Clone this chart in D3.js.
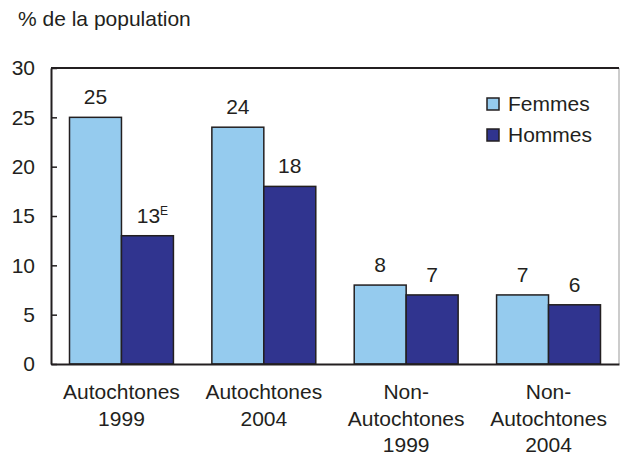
<!DOCTYPE html>
<html>
<head>
<meta charset="utf-8">
<script src="https://cdn.jsdelivr.net/npm/d3@7"></script>
<style>
  body { margin: 0; background: #fff; }
  text { font-family: "Liberation Sans", Arial, sans-serif; fill: #231f20; }
</style>
</head>
<body>
<svg id="chart" width="620" height="460"></svg>
<script>
const groups = ["Autochtones 1999", "Autochtones 2004", "Non-Autochtones 1999", "Non-Autochtones 2004"];
const groupLines = [["Autochtones", "1999"], ["Autochtones", "2004"], ["Non-", "Autochtones", "1999"], ["Non-", "Autochtones", "2004"]];
const series = ["Femmes", "Hommes"];
const femmes = [25, 24, 8, 7];
const hommes = [13, 18, 7, 6];
const flags = [["", "E"], ["", ""], ["", ""], ["", ""]];
const yTicks = [0, 5, 10, 15, 20, 25, 30];
const colors = ["#95cbee", "#30348f"];

function drawChart() {
    let margin = { top: 68, right: 0, bottom: 96, left: 51 },
        width = 620 - margin.left - margin.right,
        height = 460 - margin.top - margin.bottom;

    let svg = d3.select("#chart");
    let container = svg.append("g")
        .attr("transform", "translate(" + margin.left + "," + margin.top + ")");

    let xScale = d3.scaleBand()
        .domain(groups)
        .range([0, width - 1])
        .paddingInner(0.27)
        .paddingOuter(0.13);

    let xSub = d3.scaleBand()
        .domain(series)
        .range([0, xScale.bandwidth()]);

    let yScale = d3.scaleLinear()
        .domain([0, 30])
        .range([height, 0]);

    // frame: right thin grey, top dark
    container.append("line")
        .attr("x1", width - 1).attr("x2", width - 1)
        .attr("y1", 0).attr("y2", height)
        .style("stroke", "#999").style("stroke-width", 1);
    container.append("line")
        .attr("x1", 0).attr("x2", width - 1)
        .attr("y1", 0).attr("y2", 0)
        .style("stroke", "#231f20").style("stroke-width", 2);

    let rows = groups.map((g, i) => ({ g, i, vals: [femmes[i], hommes[i]] }));

    let grp = container.selectAll(".grp")
        .data(rows)
        .enter().append("g")
        .attr("class", "grp")
        .attr("transform", d => "translate(" + xScale(d.g) + ",0)");

    grp.selectAll("rect")
        .data(d => d.vals.map((v, k) => ({ v, k, s: series[k] })))
        .enter().append("rect")
        .attr("x", d => xSub(d.s))
        .attr("y", d => yScale(d.v))
        .attr("width", xSub.bandwidth())
        .attr("height", d => height - yScale(d.v))
        .attr("fill", d => colors[d.k])
        .style("stroke", "#231f20")
        .style("stroke-width", 1.5);

    let lab = grp.selectAll(".val")
        .data(d => d.vals.map((v, k) => ({ v, k, s: series[k], f: flags[d.i][k] })))
        .enter().append("text")
        .attr("class", "val")
        .attr("x", d => xSub(d.s) + xSub.bandwidth() / 2 + (d.f ? 5 : 0))
        .attr("y", d => yScale(d.v) - 13)
        .attr("text-anchor", "middle")
        .style("font-size", "21px");
    lab.append("tspan").text(d => d.v);
    lab.filter(d => d.f).append("tspan")
        .attr("dy", -8)
        .style("font-size", "12px")
        .text(d => d.f);

    // y axis
    let yAxis = d3.axisLeft(yScale).tickValues(yTicks).tickSizeInner(-6).tickSizeOuter(0).tickPadding(16);
    let ya = container.append("g").attr("class", "y axis").call(yAxis);
    ya.select(".domain").style("stroke", "#231f20").style("stroke-width", 2);
    ya.selectAll(".tick line").style("stroke", "#231f20").style("stroke-width", 1.5);
    ya.selectAll("text").style("font-size", "21px").style("font-family", "Liberation Sans, Arial, sans-serif").attr("fill", "#231f20");

    // x axis
    let xAxis = d3.axisBottom(xScale).tickSize(0).tickFormat("");
    let xa = container.append("g").attr("class", "x axis")
        .attr("transform", "translate(0," + height + ")")
        .call(xAxis);
    xa.select(".domain").style("stroke", "#231f20").style("stroke-width", 2);

    container.selectAll(".xl")
        .data(rows)
        .enter().append("text")
        .attr("class", "xl")
        .attr("x", d => xScale(d.g) + xScale.bandwidth() / 2)
        .attr("y", height + 35)
        .attr("text-anchor", "middle")
        .style("font-size", "21px")
        .selectAll("tspan")
        .data(d => groupLines[d.i])
        .enter().append("tspan")
        .attr("x", function () { return this.parentNode.getAttribute("x"); })
        .attr("dy", (d, i) => i === 0 ? 0 : 26.5)
        .text(d => d);

    svg.append("text")
        .attr("x", 18)
        .attr("y", 26)
        .style("font-size", "21px")
        .text("% de la population");

    // legend
    let legend = svg.append("g").attr("transform", "translate(487,98)");
    let item = legend.selectAll(".leg")
        .data(series)
        .enter().append("g")
        .attr("transform", (d, i) => "translate(0," + i * 31 + ")");
    item.append("rect")
        .attr("width", 12).attr("height", 12)
        .attr("fill", (d, i) => colors[i])
        .style("stroke", "#231f20").style("stroke-width", 1.5);
    item.append("text")
        .attr("x", 21).attr("y", 13)
        .style("font-size", "21px")
        .text(d => d);
}

drawChart();
</script>
</body>
</html>
